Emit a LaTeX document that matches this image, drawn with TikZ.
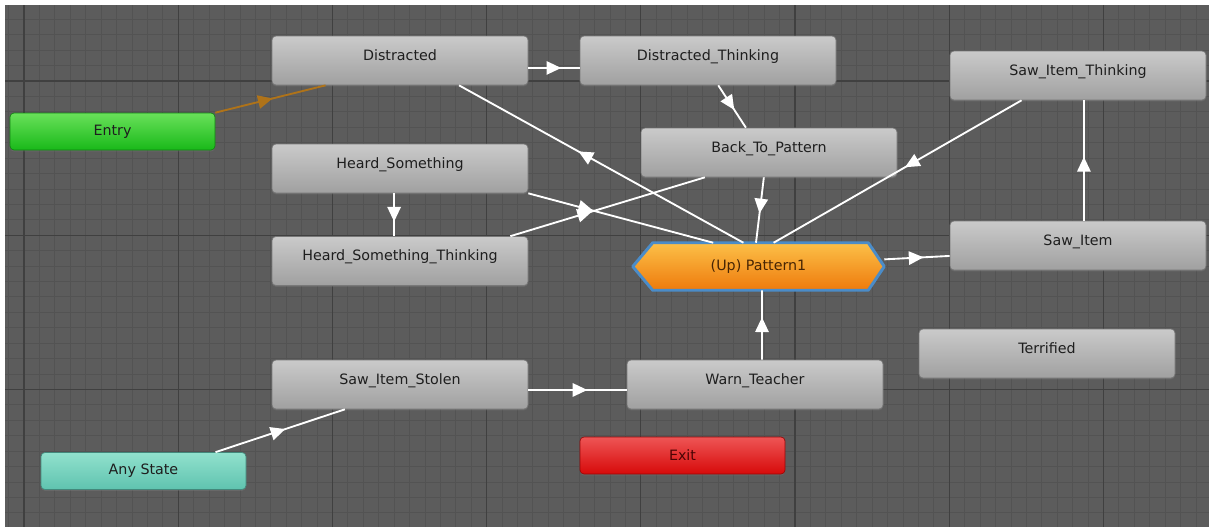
\documentclass[tikz,border=0pt]{standalone}
\usepackage{fontspec}
\setmainfont{DejaVu Sans}
\usetikzlibrary{arrows.meta,calc,decorations.markings,shadows}

\definecolor{canvasBg}{RGB}{92,92,92}
\definecolor{gridMinor}{RGB}{83,83,83}
\definecolor{gridMajor}{RGB}{64,64,64}
\definecolor{stateTop}{RGB}{202,202,202}
\definecolor{stateBot}{RGB}{160,160,160}
\definecolor{stateEdge}{RGB}{120,120,120}
\definecolor{labelInk}{RGB}{30,30,30}
\definecolor{entryTop}{RGB}{105,225,90}
\definecolor{entryBot}{RGB}{25,185,25}
\definecolor{anyTop}{RGB}{145,225,205}
\definecolor{anyBot}{RGB}{95,195,175}
\definecolor{exitTop}{RGB}{238,85,85}
\definecolor{exitBot}{RGB}{215,10,10}
\definecolor{hexTop}{RGB}{252,192,72}
\definecolor{hexBot}{RGB}{238,122,12}
\definecolor{hexGlow}{RGB}{75,140,200}
\definecolor{entryLine}{RGB}{175,115,25}

\tikzset{
	state/.style={rectangle, rounded corners=3pt, top color=stateTop, bottom color=stateBot,
		draw=stateEdge, line width=0.5pt, inner sep=0pt, minimum width=192pt,
		text height=18pt, text depth=18.75pt, text=labelInk, font=\fontsize{10.7}{12}\selectfont,
		drop shadow={opacity=0.35, shadow xshift=0pt, shadow yshift=-1pt}},
	special/.style={rectangle, rounded corners=3pt, line width=0.5pt, inner sep=0pt,
		minimum width=153.75pt, minimum height=27.75pt, text=labelInk, font=\fontsize{10.7}{12}\selectfont,
		drop shadow={opacity=0.35, shadow xshift=0pt, shadow yshift=-1pt}},
	hexbox/.style={rectangle, inner sep=0pt, minimum width=188.25pt, minimum height=35.25pt},
	trans/.style={color=white, line width=1.4pt, postaction={decorate},
		decoration={markings, mark=at position #1 with {\arrow{Triangle[length=11pt,width=10pt]}}}},
	trans/.default=0.5,
	minorgrid/.style={draw=gridMinor, line width=0.6pt},
	majorgrid/.style={draw=gridMajor, line width=0.9pt}
}

\begin{document}
\begin{tikzpicture}[x=0.75pt,y=0.75pt,yscale=-1,xscale=1]
	\useasboundingbox (0,0) rectangle (1212,529);
	\fill[white] (0,0) rectangle (1212,529);

	% Canvas and grid
	\fill[canvasBg] (5,5) rectangle (1209,527);
	\foreach \i in {0,...,77} \draw[minorgrid] ({8.6+15.42*\i},5) -- ({8.6+15.42*\i},527);
	\foreach \j in {1,...,33} \draw[minorgrid] (5,{3.9+15.42*\j}) -- (1209,{3.9+15.42*\j});
	\foreach \i in {0,...,7} \draw[majorgrid] ({24+154.2*\i},5) -- ({24+154.2*\i},527);
	\foreach \j in {0,...,2} \draw[majorgrid] (5,{81+154.2*\j}) -- (1209,{81+154.2*\j});

	% Entry / Any State / Exit
	\node[special, top color=entryTop, bottom color=entryBot, draw=entryBot!70!black] (entry) at (112.5,131.5) {Entry};
	\node[special, top color=anyTop, bottom color=anyBot, draw=anyBot!70!black] (any) at (143.5,471) {Any State};
	\node[special, top color=exitTop, bottom color=exitBot, draw=exitBot!70!black, text=exitBot!35!black] (exit) at (682.5,455.5) {Exit};

	% State Nodes
	\node[state] (dist) at (400,60.5) {Distracted};
	\node[state] (dthink) at (708,60.5) {Distracted\_Thinking};
	\node[state] (sthink) at (1078,75.5) {Saw\_Item\_Thinking};
	\node[state] (back) at (769,152.5) {Back\_To\_Pattern};
	\node[state] (hs) at (400,168.5) {Heard\_Something};
	\node[state] (hst) at (400,261) {Heard\_Something\_Thinking};
	\node[state] (saw) at (1078,245.5) {Saw\_Item};
	\node[state] (terr) at (1047,353.5) {Terrified};
	\node[state] (sis) at (400,384.5) {Saw\_Item\_Stolen};
	\node[state] (warn) at (755,384.5) {Warn\_Teacher};

	% Sub-state machine
	\node[hexbox] (p1) at (758.5,266.5) {};
	\draw[draw=hexGlow, line width=2.2pt, line join=round, top color=hexTop, bottom color=hexBot]
		(p1.west) -- ([xshift=15pt]p1.north west) -- ([xshift=-12pt]p1.north east) -- (p1.east)
		-- ([xshift=-12pt]p1.south east) -- ([xshift=15pt]p1.south west) -- cycle;
	\node[text=hexBot!30!black, font=\fontsize{10.7}{12}\selectfont] (p1label) at (p1) {(Up) Pattern1};

	% Transitions
	\draw[trans=0.52, color=entryLine] (entry.north east) -- ($(dist.south west)!0.21!(dist.south east)$);
	\draw[trans=0.64] ($(dist.east)!0.3!(dist.south east)$) -- ($(dthink.west)!0.3!(dthink.south west)$);
	\draw[trans=0.58] ($(dthink.south west)!0.54!(dthink.south east)$) -- ($(back.north west)!0.41!(back.north east)$);
	\draw[trans=0.58] ($(p1.north west)!0.44!(p1.north east)$) -- ($(dist.south west)!0.73!(dist.south east)$);
	\draw[trans=0.47] ($(sthink.south west)!0.28!(sthink.south east)$) -- ($(p1.north west)!0.56!(p1.north east)$);
	\draw[trans=0.55] ($(back.south west)!0.48!(back.south east)$) -- ($(p1.north west)!0.49!(p1.north east)$);
	\draw[trans=0.35] (hs.south east) -- ($(p1.north west)!0.32!(p1.north east)$);
	\draw[trans=0.66] ($(hs.south west)!0.477!(hs.south east)$) -- ($(hst.north west)!0.477!(hst.north east)$);
	\draw[trans=0.42] ($(hst.north west)!0.93!(hst.north east)$) -- ($(back.south west)!0.25!(back.south east)$);
	\draw[trans=0.6] ($(p1.north east)!0.35!(p1.south east)$) -- ($(saw.north west)!0.71!(saw.south west)$);
	\draw[trans=0.53] ($(saw.north west)!0.523!(saw.north east)$) -- ($(sthink.south west)!0.523!(sthink.south east)$);
	\draw[trans=0.6] ($(sis.north east)!0.61!(sis.south east)$) -- ($(warn.north west)!0.61!(warn.south west)$);
	\draw[trans=0.61] ($(warn.north west)!0.527!(warn.north east)$) -- ($(p1.south west)!0.514!(p1.south east)$);
	\draw[trans=0.54] ($(any.north west)!0.85!(any.north east)$) -- ($(sis.south west)!0.285!(sis.south east)$);

\end{tikzpicture}
\end{document}
